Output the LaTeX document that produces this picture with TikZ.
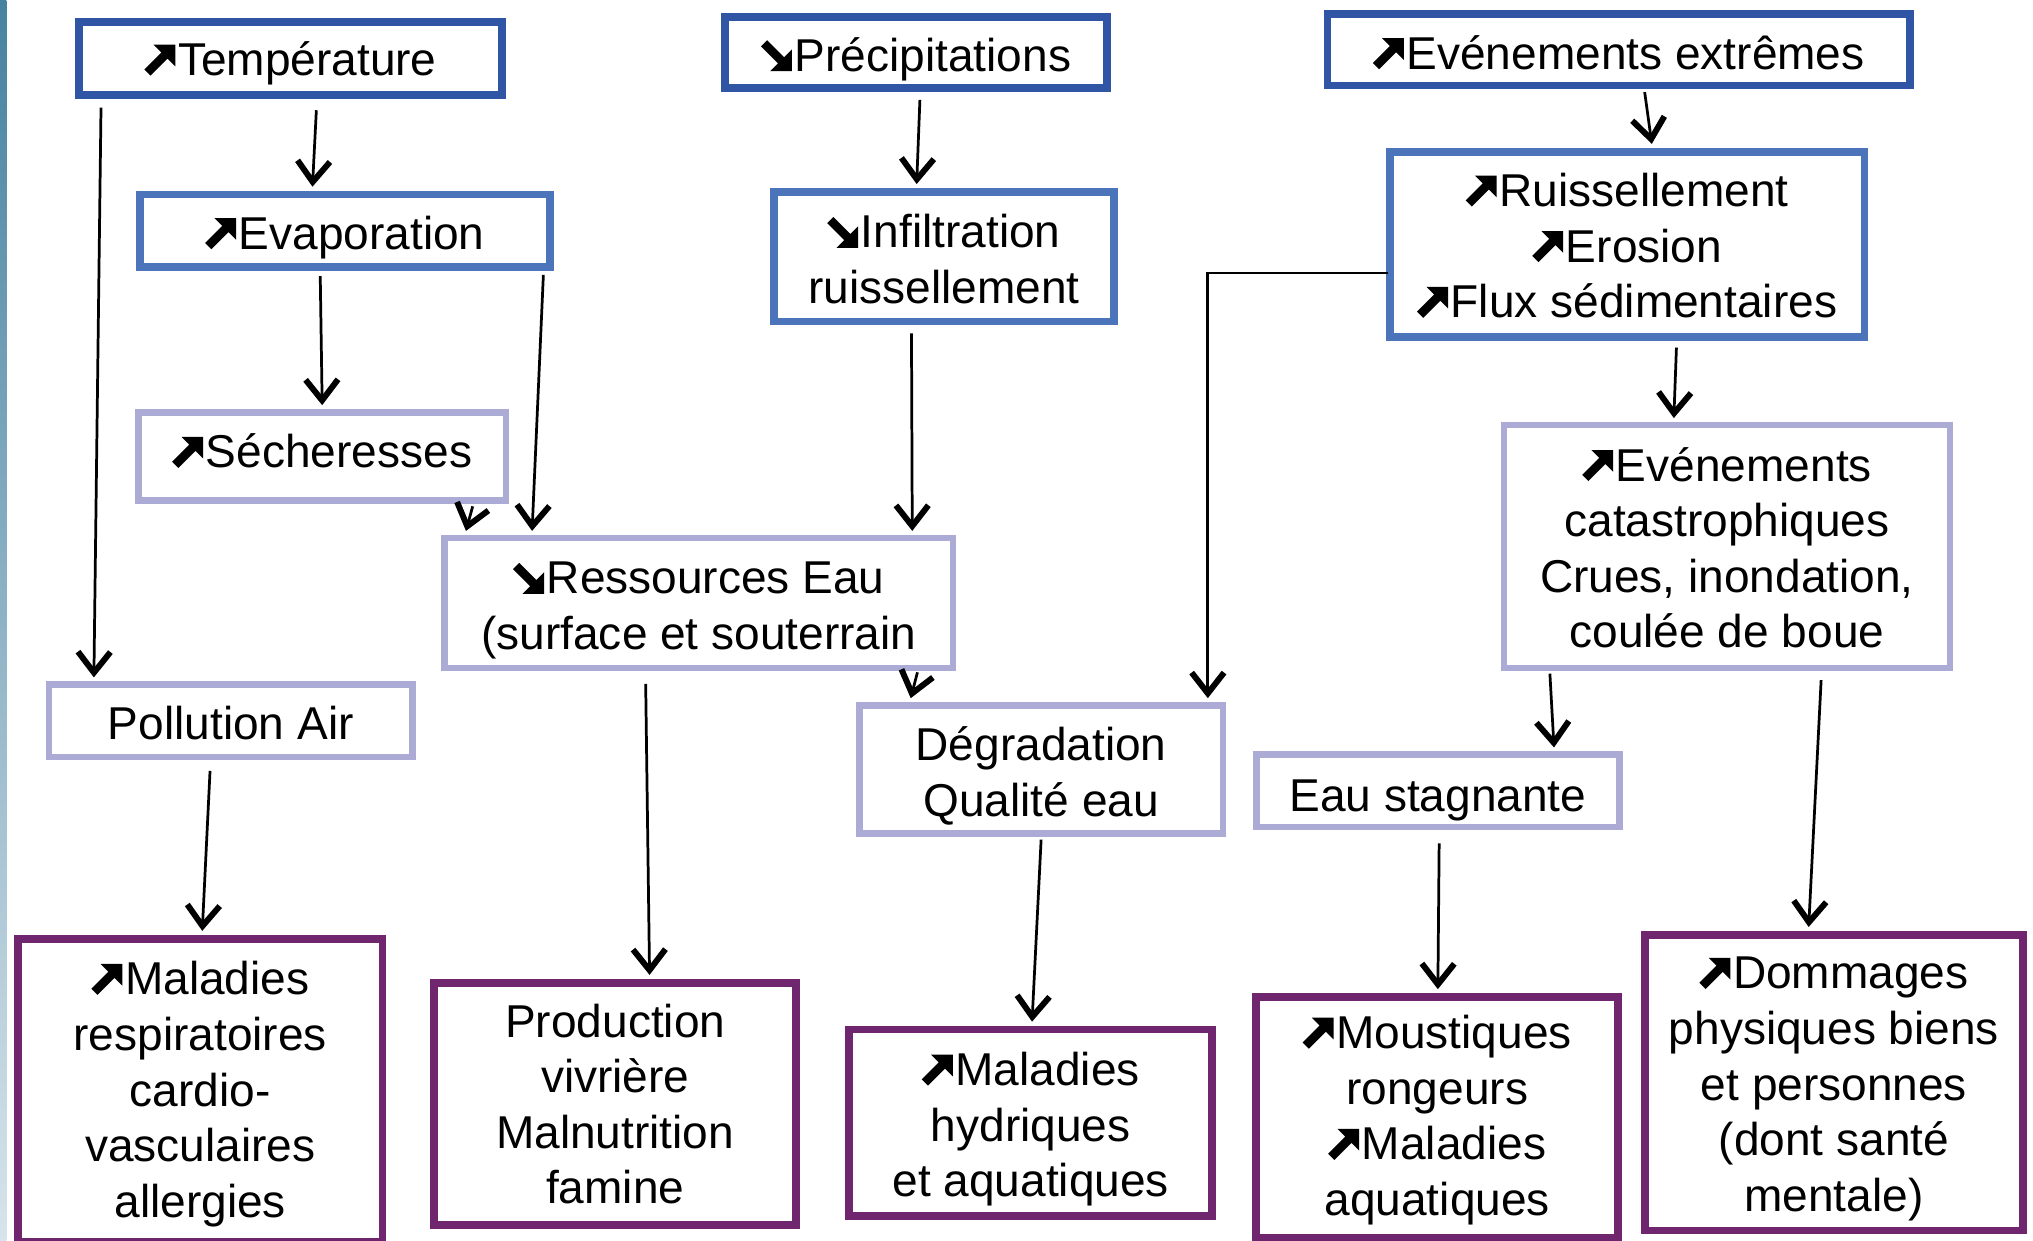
\documentclass[tikz,border=0pt]{standalone}
\usepackage{fontspec}
\setmainfont{Liberation Sans}
\usetikzlibrary{arrows.meta,calc}
\definecolor{darkblue}{HTML}{2F55A4}
\definecolor{midblue}{HTML}{4C74BA}
\definecolor{lavender}{HTML}{ABABD5}
\definecolor{plum}{HTML}{70266E}
% heavy trend arrows (rising / falling), built with the basic pgf layer
\newsavebox\risebox
\newsavebox\fallbox
\newcommand\arrup{\usebox\risebox}
\newcommand\arrdn{\usebox\fallbox}
\newcommand\pp[2]{\pgfpoint{#1pt}{#2pt}}
\tikzset{
  box/.style={draw, line width=0.06cm, fill=white, inner sep=0pt},
  causebox/.style={box, draw=darkblue},
  processbox/.style={box, draw=midblue},
  effectbox/.style={box, draw=lavender, line width=0.05cm},
  healthbox/.style={box, draw=plum},
  txt/.style={align=center, inner sep=0pt, font=\fontsize{10.1pt}{12.2pt}\selectfont},
  arr/.style={line width=0.6pt, -{Straight Barb[length=0.16cm, width=0.25cm, line width=1.3pt]}}
}
\begin{document}
\sbox\risebox{\begin{pgfpicture}
  \pgfpathmoveto{\pp{0}{1.36}}\pgfpathlineto{\pp{1.36}{0}}\pgfpathlineto{\pp{5.1}{3.74}}
  \pgfpathlineto{\pp{6.8}{2.04}}\pgfpathlineto{\pp{6.8}{6.8}}\pgfpathlineto{\pp{2.04}{6.8}}
  \pgfpathlineto{\pp{3.74}{5.1}}\pgfpathclose\pgfusepath{fill}
  \pgfpathrectangle{\pp{0}{0}}{\pp{7.4}{6.8}}\pgfusepath{use as bounding box}
\end{pgfpicture}}
\sbox\fallbox{\begin{pgfpicture}
  \pgfpathmoveto{\pp{0}{5.44}}\pgfpathlineto{\pp{1.36}{6.8}}\pgfpathlineto{\pp{5.1}{3.06}}
  \pgfpathlineto{\pp{6.8}{4.76}}\pgfpathlineto{\pp{6.8}{0}}\pgfpathlineto{\pp{2.04}{0}}
  \pgfpathlineto{\pp{3.74}{1.7}}\pgfpathclose\pgfusepath{fill}
  \pgfpathrectangle{\pp{0}{0}}{\pp{7.4}{6.8}}\pgfusepath{use as bounding box}
\end{pgfpicture}}
\begin{tikzpicture}[x=0.01cm, y=-0.01cm]
\useasboundingbox (0,0) rectangle (1568,957);
\clip (0,0) rectangle (1568,957);
\fill[white] (0,0) rectangle (1568,957);
\shade[top color={rgb,255:red,70;green,130;blue,160}, bottom color={rgb,255:red,215;green,228;blue,235}] (0,0) rectangle (5,957);

% causes
\node[causebox, minimum width=3.26cm, minimum height=0.56cm] (temp) at (224,45) {};
\node[causebox, minimum width=2.95cm, minimum height=0.55cm] (precip) at (706.5,40.5) {};
\node[causebox, minimum width=4.49cm, minimum height=0.55cm] (extr) at (1248.5,38.5) {};
\node[txt] (tempT) at ([yshift=-0.04cm]temp.center) {\arrup Température};
\node[txt] (precipT) at ([yshift=-0.05cm]precip.center) {\arrdn Précipitations};
\node[txt] (extrT) at ([yshift=-0.02cm]extr.center) {\arrup Evénements extrêmes};

% processes
\node[processbox, minimum width=3.16cm, minimum height=0.56cm] (evap) at (266,178) {};
\node[processbox, minimum width=2.62cm, minimum height=1.00cm] (infil) at (728,198) {};
\node[processbox, minimum width=3.66cm, minimum height=1.43cm] (ruis) at (1255,188.5) {};
\node[txt] (evapT) at ([yshift=-0.05cm]evap.center) {\arrup Evaporation};
\node[txt] (infilT) at ([yshift=-0.02cm]infil.center) {\arrdn Infiltration\\ruissellement};
\node[txt] (ruisT) at ([yshift=-0.01cm]ruis.center) {\arrup Ruissellement\\\arrup Erosion\\\arrup Flux sédimentaires};

% effects
\node[effectbox, minimum width=2.83cm, minimum height=0.68cm] (sech) at (248.5,352) {};
\node[effectbox, minimum width=3.92cm, minimum height=1.00cm] (ress) at (539,465) {};
\node[effectbox, minimum width=3.44cm, minimum height=1.87cm] (cata) at (1332,421.5) {};
\node[effectbox, minimum width=2.80cm, minimum height=0.56cm] (poll) at (178,556) {};
\node[effectbox, minimum width=2.80cm, minimum height=0.99cm] (degr) at (803,593.5) {};
\node[effectbox, minimum width=2.80cm, minimum height=0.56cm] (stag) at (1109,610) {};
\node[txt] (sechT) at ([yshift=0.04cm]sech.center) {\arrup Sécheresses};
\node[txt] (ressT) at ([yshift=-0.06cm]ress.center) {\arrdn Ressources Eau\\(surface et souterrain};
\node[txt] (cataT) at ([yshift=-0.01cm]cata.center) {\arrup Evénements\\catastrophiques\\Crues, inondation,\\coulée de boue};
\node[txt] (pollT) at ([yshift=-0.02cm]poll.center) {Pollution Air};
\node[txt] (degrT) at ([yshift=-0.05cm]degr.center) {Dégradation\\Qualité eau};
\node[txt] (stagT) at ([yshift=-0.07cm]stag.center) {Eau stagnante};

% health outcomes
\node[healthbox, minimum width=2.81cm, minimum height=2.34cm] (resp) at (154.5,841) {};
\node[healthbox, minimum width=2.79cm, minimum height=1.87cm] (prod) at (474.5,851.5) {};
\node[healthbox, minimum width=2.80cm, minimum height=1.44cm] (hydr) at (795,866) {};
\node[healthbox, minimum width=2.79cm, minimum height=1.86cm] (mous) at (1108.5,862) {};
\node[healthbox, minimum width=2.91cm, minimum height=2.28cm] (domm) at (1414.5,835) {};
\node[txt] (respT) at ([yshift=-0.03cm]resp.center) {\arrup Maladies\\respiratoires\\cardio-\\vasculaires\\allergies};
\node[txt] (prodT) at (prod.center) {Production\\vivrière\\Malnutrition\\famine};
\node[txt] (hydrT) at ([yshift=-0.05cm]hydr.center) {\arrup Maladies\\hydriques\\et aquatiques};
\node[txt] (mousT) at ([yshift=-0.02cm]mous.center) {\arrup Moustiques\\rongeurs\\\arrup Maladies\\aquatiques};
\node[txt] (dommT) at ([yshift=-0.05cm]domm.center) {\arrup Dommages\\physiques biens\\et personnes\\(dont santé\\mentale)};

% links
\draw[arr] ($(temp.south west)+(20,7)$) -- ($(poll.north west)+(37,-3)$);
\draw[arr] ($(temp.south)+(20,9)$) -- ($(evap.north)+(-25,-3)$);
\draw[arr] ($(evap.south)+(-19,4)$) -- ($(sech.north)+(0,-3)$);
\draw[arr] ($(evap.south east)+(-8,3)$) -- ($(ress.north west)+(70,-3)$);
\draw[arr] ($(sech.south east)+(-28,2)$) -- ($(ress.north west)+(19,-3)$);
\draw[arr] ($(precip.south)+(3,6)$) -- ($(infil.north)+(-21,-3)$);
\draw[arr] ($(infil.south)+(-25,6)$) -- ($(ress.north east)+(-34,-3)$);
\draw[arr] ($(extr.south)+(20,2)$) -- ($(ruis.north)+(19,-3)$);
\draw[arr] ($(ruis.west)+(2,22)$) -| ($(degr.north east)+(-14,-3)$);
\draw[arr] ($(ruis.south)+(38,5)$) -- ($(cata.north)+(-41,-3)$);
\draw[arr] ($(ress.south east)+(-30,1)$) -- ($(degr.north west)+(42,-3)$);
\draw[arr] ($(ress.south)+(-41,10)$) -- ($(prod.north)+(26.5,-3)$);
\draw[arr] ($(poll.south)+(-16,8)$) -- ($(resp.north)+(1.5,-3)$);
\draw[arr] ($(degr.south)+(0,2)$) -- ($(hydr.north)+(1,-3)$);
\draw[arr] ($(cata.south west)+(38,2)$) -- ($(stag.north east)+(-53,-3)$);
\draw[arr] ($(stag.south)+(1,10)$) -- ($(mous.north)+(0.5,-3)$);
\draw[arr] ($(cata.south east)+(-102,7)$) -- ($(domm.north)+(-19.5,-3)$);
\end{tikzpicture}
\end{document}
